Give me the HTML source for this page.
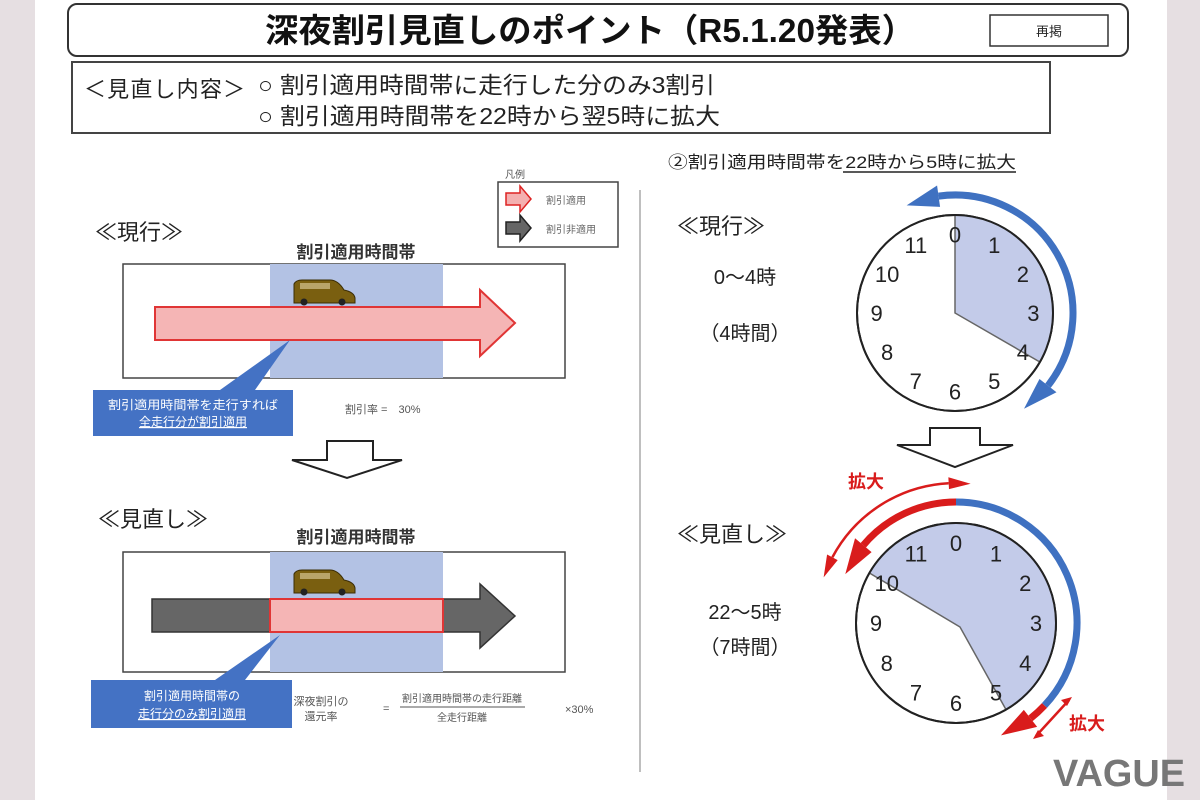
<!DOCTYPE html>
<html><head><meta charset="utf-8">
<style>
html,body{margin:0;padding:0;background:#fff;}
body{width:1200px;height:800px;overflow:hidden;}
svg text{font-family:"Liberation Sans","Noto Sans CJK JP",sans-serif;}
</style></head><body>
<svg id="s" width="1200" height="800" viewBox="0 0 1200 800" xmlns="http://www.w3.org/2000/svg">
<rect x="0" y="0" width="1200" height="800" fill="#fff"/>
<rect x="0" y="0" width="35" height="800" fill="#e6dfe2"/>
<rect x="1167" y="0" width="33" height="800" fill="#e6dfe2"/>
<rect x="68" y="4" width="1060" height="52" rx="9" fill="#fff" stroke="#333" stroke-width="2"/>
<text x="265" y="42" font-size="33" font-weight="bold" fill="#111" textLength="650" lengthAdjust="spacingAndGlyphs">深夜割引見直しのポイント（R5.1.20発表）</text>
<rect x="990" y="15" width="118" height="31" fill="#fff" stroke="#333" stroke-width="1.5"/>
<text x="1049" y="36" font-size="13" text-anchor="middle" fill="#222">再掲</text>
<rect x="72" y="62" width="978" height="71" fill="#fff" stroke="#444" stroke-width="2"/>
<text x="84" y="97" font-size="22" fill="#222" textLength="161" lengthAdjust="spacing">＜見直し内容＞</text>
<text x="258" y="93" font-size="23" fill="#222" textLength="457" lengthAdjust="spacingAndGlyphs">○ 割引適用時間帯に走行した分のみ3割引</text>
<text x="258" y="124" font-size="23" fill="#222" textLength="462" lengthAdjust="spacingAndGlyphs">○ 割引適用時間帯を22時から翌5時に拡大</text>
<text x="505" y="178" font-size="10" fill="#555">凡例</text>
<rect x="498" y="182" width="120" height="65" fill="#fff" stroke="#444" stroke-width="1.5"/>
<path d="M506,193 h14 v-7 l11,13 l-11,13 v-7 h-14z" fill="#f4b0b0" stroke="#d22" stroke-width="1.5"/>
<text x="546" y="204" font-size="10" fill="#666">割引適用</text>
<path d="M506,222 h14 v-7 l11,13 l-11,13 v-7 h-14z" fill="#666" stroke="#222" stroke-width="1.5"/>
<text x="546" y="233" font-size="10" fill="#666">割引非適用</text>
<line x1="640" y1="190" x2="640" y2="772" stroke="#aaa" stroke-width="1.5"/>
<text x="95" y="240" font-size="22" fill="#222">≪現行≫</text>
<text x="356" y="258" font-size="17" font-weight="bold" text-anchor="middle" fill="#333">割引適用時間帯</text>
<rect x="123" y="264" width="442" height="114" fill="#fff" stroke="#444" stroke-width="1.5"/>
<rect x="270" y="264" width="173" height="114" fill="#b3c2e4"/>
<g transform="translate(292,280)"><path d="M2,4 q2,-4 8,-4 h28 q8,0 14,10 q10,2 11,8 v5 h-61z" fill="#7a5f10" stroke="#3b2d05"/><rect x="8" y="3" width="30" height="6" fill="#b9a56a"/><circle cx="12" cy="22" r="3.5" fill="#222"/><circle cx="50" cy="22" r="3.5" fill="#222"/></g>
<path d="M155,307 h325 v-17 l35,33 l-35,33 v-16 h-325z" fill="#f5b5b5" stroke="#e03535" stroke-width="2"/>
<path d="M93,390 h200 v46 h-200z M220,390 L290,340 L255,390z" fill="#4472c4"/>
<text x="108" y="409" font-size="12" fill="#fff" textLength="170" lengthAdjust="spacingAndGlyphs">割引適用時間帯を走行すれば</text>
<text x="193" y="426" font-size="12" text-anchor="middle" fill="#fff" text-decoration="underline">全走行分が割引適用</text>
<text x="345" y="413" font-size="11" fill="#555">割引率 =　30%</text>
<path d="M327,441 h46 v19 h29 l-55,18 l-55,-18 h35z" fill="#fff" stroke="#222" stroke-width="2"/>
<text x="98" y="527" font-size="22" fill="#222">≪見直し≫</text>
<text x="356" y="543" font-size="17" font-weight="bold" text-anchor="middle" fill="#333">割引適用時間帯</text>
<rect x="123" y="552" width="442" height="120" fill="#fff" stroke="#444" stroke-width="1.5"/>
<rect x="270" y="552" width="173" height="120" fill="#b3c2e4"/>
<g transform="translate(292,570)"><path d="M2,4 q2,-4 8,-4 h28 q8,0 14,10 q10,2 11,8 v5 h-61z" fill="#7a5f10" stroke="#3b2d05"/><rect x="8" y="3" width="30" height="6" fill="#b9a56a"/><circle cx="12" cy="22" r="3.5" fill="#222"/><circle cx="50" cy="22" r="3.5" fill="#222"/></g>
<path d="M152,599 h328 v-15 l35,32 l-35,32 v-16 h-328z" fill="#666" stroke="#333" stroke-width="1.5"/>
<rect x="270" y="599" width="173" height="33" fill="#f5b5b5" stroke="#e03535" stroke-width="2"/>
<path d="M91,680 h201 v48 h-201z M215,680 L280,635 L245,680z" fill="#4472c4"/>
<text x="192" y="700" font-size="12" text-anchor="middle" fill="#fff">割引適用時間帯の</text>
<text x="192" y="718" font-size="12" text-anchor="middle" fill="#fff" text-decoration="underline">走行分のみ割引適用</text>
<text x="321" y="705" font-size="11" text-anchor="middle" fill="#555">深夜割引の</text>
<text x="321" y="720" font-size="11" text-anchor="middle" fill="#555">還元率</text>
<text x="383" y="712" font-size="11" fill="#555">=</text>
<text x="462" y="702" font-size="10" text-anchor="middle" fill="#555">割引適用時間帯の走行距離</text>
<line x1="400" y1="707" x2="525" y2="707" stroke="#555"/>
<text x="462" y="721" font-size="10" text-anchor="middle" fill="#555">全走行距離</text>
<text x="565" y="713" font-size="11" fill="#555">×30%</text>
<text x="668" y="168" font-size="17" fill="#222" textLength="348" lengthAdjust="spacingAndGlyphs">②割引適用時間帯を22時から5時に拡大</text>
<line x1="843" y1="172" x2="1016" y2="172" stroke="#222" stroke-width="1.5"/>
<text x="677" y="234" font-size="22" fill="#222">≪現行≫</text>
<text x="745" y="284" font-size="20" text-anchor="middle" fill="#222">0～4時</text>
<text x="745" y="340" font-size="20" text-anchor="middle" fill="#222">（4時間）</text>
<path d="M930,428 h50 v17 h33 l-58,22 l-58,-22 h33z" fill="#fff" stroke="#222" stroke-width="2"/>
<text x="677" y="542" font-size="22" fill="#222">≪見直し≫</text>
<text x="745" y="619" font-size="20" text-anchor="middle" fill="#222">22～5時</text>
<text x="745" y="654" font-size="20" text-anchor="middle" fill="#222">（7時間）</text>
<g id="clocks"></g>
<text x="1053" y="786" font-size="38" font-weight="bold" fill="#777" textLength="132" lengthAdjust="spacingAndGlyphs">VAGUE</text>
</svg>
<script>
var NS="http://www.w3.org/2000/svg",g=document.getElementById("clocks");
function el(t,a,txt){var e=document.createElementNS(NS,t);for(var k in a)e.setAttribute(k,a[k]);if(txt!=null)e.textContent=txt;g.appendChild(e);return e;}
function pt(cx,cy,r,deg){var a=deg*Math.PI/180;return [cx+r*Math.sin(a),cy-r*Math.cos(a)];}
function arc(cx,cy,r,a0,a1){var p=pt(cx,cy,r,a0),q=pt(cx,cy,r,a1);var large=Math.abs(a1-a0)>180?1:0;var sw=a1>a0?1:0;return "M"+p[0]+","+p[1]+" A"+r+","+r+" 0 "+large+" "+sw+" "+q[0]+","+q[1];}
function head(cx,cy,r,ang,dir,col,sz){var tip=pt(cx,cy,r,ang+dir*sz*0.9);var b1=pt(cx,cy,r-sz*0.6,ang),b2=pt(cx,cy,r+sz*0.6,ang);el("path",{d:"M"+tip+" L"+b1+" L"+b2+"z",fill:col});}
function clock(cx,cy,r,a0,a1,vx,vy){
 el("circle",{cx:cx,cy:cy,r:r,fill:"#fff",stroke:"#222","stroke-width":2});
 var p=pt(cx,cy,r,a0),q=pt(cx,cy,r,a1);
 el("path",{d:"M"+vx+","+vy+" L"+p+" A"+r+","+r+" 0 "+((a1-a0)>180?1:0)+" 1 "+q+" Z",fill:"#c3cbe9",stroke:"#666","stroke-width":1.5});
 el("circle",{cx:cx,cy:cy,r:r,fill:"none",stroke:"#222","stroke-width":2});
 for(var i=0;i<12;i++){var t=pt(cx,cy,r*0.8,i*30);el("text",{x:t[0],y:t[1]+8,"font-size":22,"text-anchor":"middle",fill:"#222"},String(i));}
}
clock(955,313,98,0,120,955,313);
el("path",{d:arc(955,313,118,-8,128),fill:"none",stroke:"#3f71c1","stroke-width":7});
head(955,313,118,-8,-1,"#3f71c1",18);head(955,313,118,128,1,"#3f71c1",18);
clock(956,623,100,-60,150,960,627);
el("path",{d:arc(956,623,121,0,133),fill:"none",stroke:"#3f71c1","stroke-width":7});
el("path",{d:arc(956,623,121,133,142),fill:"none",stroke:"#d91c1c","stroke-width":7});
head(956,623,121,142,1,"#d91c1c",18);
el("path",{d:arc(956,623,121,0,-50),fill:"none",stroke:"#d91c1c","stroke-width":7});
head(956,623,121,-50,-1,"#d91c1c",18);
el("path",{d:arc(956,623,140,-3,-62),fill:"none",stroke:"#d91c1c","stroke-width":2.5});
head(956,623,140,-3,1,"#d91c1c",10);head(956,623,140,-62,-1,"#d91c1c",10);
el("path",{d:"M1069,700 L1036,736",fill:"none",stroke:"#d91c1c","stroke-width":2.5});
el("path",{d:"M1072,697 l-11,3 l6,6z M1033,739 l11,-3 l-6,-6z",fill:"#d91c1c"});
el("text",{x:848,y:488,"font-size":18,"font-weight":"bold",fill:"#d91c1c"},"拡大");
el("text",{x:1069,y:730,"font-size":18,"font-weight":"bold",fill:"#d91c1c"},"拡大");
</script>
</body></html>
